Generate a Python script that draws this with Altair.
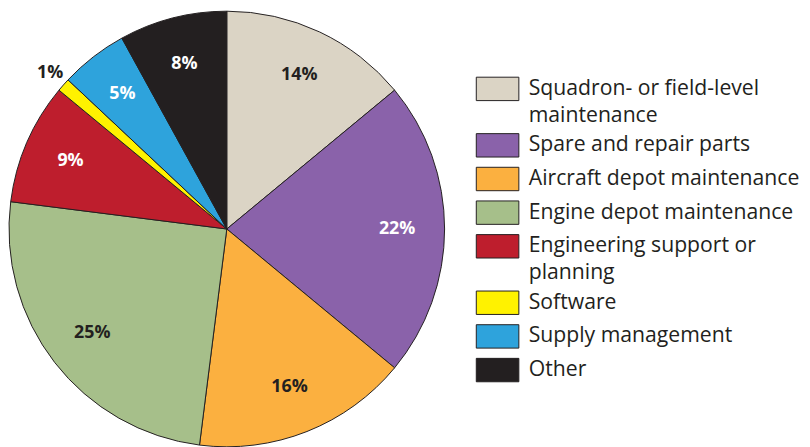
import altair as alt
import pandas as pd

categories = [
    "Squadron- or field-level\nmaintenance",
    "Spare and repair parts",
    "Aircraft depot maintenance",
    "Engine depot maintenance",
    "Engineering support or\nplanning",
    "Software",
    "Supply management",
    "Other",
]
shares = [14, 22, 16, 25, 9, 1, 5, 8]
colors = ["#dbd4c5", "#8a62aa", "#fbb040", "#a6bf8a", "#be1e2d", "#fff200", "#2ea3dc", "#231f20"]
dark_slices = ["Spare and repair parts", "Engineering support or\nplanning", "Supply management", "Other"]
outside_labels = ["Software"]

df = pd.DataFrame({"cat": categories, "share": shares, "idx": list(range(len(categories)))})

ink = "#231f20"

base = alt.Chart(df).encode(
    theta=alt.Theta("share:Q", stack=True),
    order=alt.Order("idx:Q", sort="ascending"),
    x=alt.value(221),
    y=alt.value(221),
)

pie = base.mark_arc(outerRadius=220, stroke=ink, strokeWidth=1).encode(
    color=alt.Color(
        "cat:N",
        sort=categories,
        scale=alt.Scale(domain=categories, range=colors),
        legend=alt.Legend(
            title=None,
            orient="none",
            legendX=483,
            legendY=68,
            symbolType="M-2,-1.1H2V1.1H-2Z",
            symbolSize=462,
            symbolStrokeColor=ink,
            symbolStrokeWidth=1,
            symbolOpacity=1,
            labelFont="Open Sans",
            labelFontSize=21.4,
            labelColor=ink,
            labelLimit=0,
            labelOffset=20,
            rowPadding=5,
            labelExpr="split(datum.label, '\\n')",
        ),
    )
)

out_list = "[" + ",".join("'" + c + "'" for c in outside_labels) + "]"

inner_labels = base.transform_calculate(
    txt=f"indexof({out_list}, datum.cat) >= 0 ? '' : datum.share + '%'",
).mark_text(font="Open Sans", fontWeight="bold", fontSize=18, radius=172).encode(
    text="txt:N",
    color=alt.condition(
        alt.FieldOneOfPredicate(field="cat", oneOf=dark_slices),
        alt.value("white"),
        alt.value(ink),
    ),
)

outer_labels = base.transform_calculate(
    txt=f"indexof({out_list}, datum.cat) >= 0 ? datum.share + '%' : ''",
).mark_text(font="Open Sans", fontWeight="bold", fontSize=18, radius=238, color=ink).encode(
    text="txt:N",
)

chart = (
    alt.layer(pie, inner_labels, outer_labels)
    .properties(width=802, height=440, padding=0, autosize=alt.AutoSizeParams(type="none"))
    .configure(style={"guide-label": {"lineHeight": 27}})
    .configure_view(stroke=None)
)

chart.save("out.html", embed_options={"renderer": "svg", "actions": False})
